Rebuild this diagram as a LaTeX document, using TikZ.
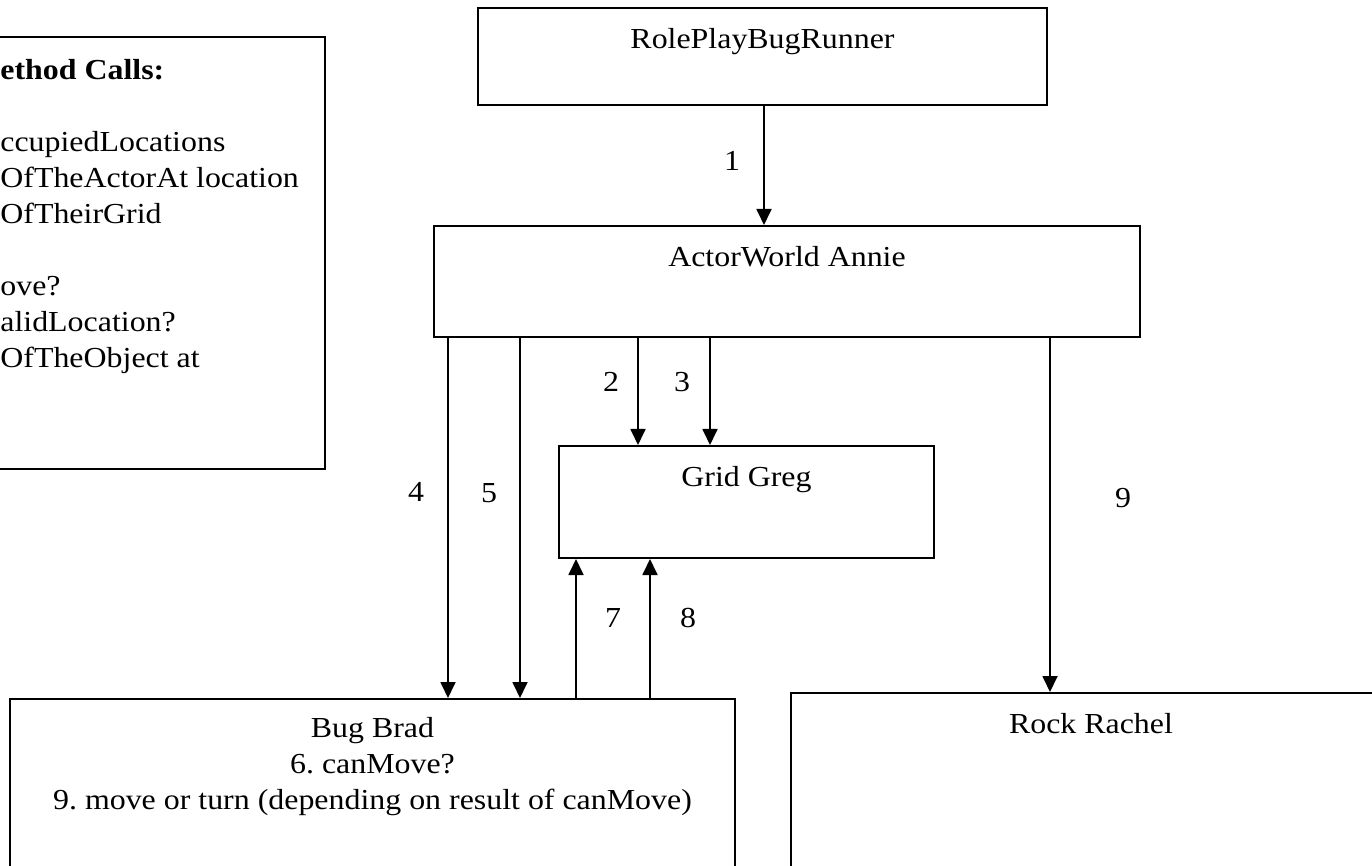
\documentclass[tikz,border=0pt]{standalone}
\usepackage{fontspec}
\setmainfont{Liberation Serif}[FakeStretch=1.1]
\usetikzlibrary{positioning,arrows.meta}
\frenchspacing
\tikzstyle{box} = [rectangle, draw, line width=1pt, inner sep=0pt]
\tikzstyle{boxtext} = [inner sep=0pt, text height=10pt, text depth=3pt]
\tikzstyle{num} = [inner sep=0pt]
\tikzstyle{line} = [draw, line width=0.9pt, -{Triangle[width=7.5pt,length=8pt]}]

\begin{document}
\begin{tikzpicture}[x=0.5pt, y=-0.5pt, font=\fontsize{14.5pt}{18pt}\selectfont]
	\useasboundingbox (0,0) rectangle (1372,866);
	\clip (0,0) rectangle (1372,866);

	\node[box, minimum width=173pt, minimum height=216pt, anchor=north east] (callsbox) at (326,36) {};
	\node[num, anchor=north west, align=left] (calls) at (0,59) {\textbf{ethod Calls:}\\[18pt] ccupiedLocations\\ OfTheActorAt location\\ OfTheirGrid\\[18pt] ove?\\ alidLocation?\\ OfTheObject at};

	\node[box, minimum width=284.5pt, minimum height=48.5pt, anchor=north west] (runner) at (477,7) {};
	\node[boxtext, below=10.5pt of runner.north] (runnertxt) {RolePlayBugRunner};
	\node[box, minimum width=353pt, minimum height=55.5pt, anchor=north west] (annie) at (433,225) {};
	\node[boxtext, below=10.5pt of annie.north] (annietxt) {ActorWorld Annie};
	\node[box, minimum width=187.5pt, minimum height=56pt, anchor=north west] (greg) at (558,445) {};
	\node[boxtext, below=10.5pt of greg.north] (gregtxt) {Grid Greg};
	\node[box, minimum width=362.5pt, minimum height=151pt, anchor=north west] (brad) at (9,698) {};
	\node[num, align=center, below=9.5pt of brad.north] (bradtxt) {Bug Brad\\ 6. canMove?\\ 9. move or turn (depending on result of canMove)};
	\node[box, minimum width=300pt, minimum height=154pt, anchor=north west] (rock) at (790,692) {};
	\node[boxtext, below=10.5pt of rock.north] (rocktxt) {Rock Rachel};

	\path[line] (runner.south -| 764,0) -- (annie.north -| 764,0);
	\path[line] (annie.south -| 448,0) -- (brad.north -| 448,0);
	\path[line] (annie.south -| 520,0) -- (brad.north -| 520,0);
	\path[line] (annie.south -| 638,0) -- (greg.north -| 638,0);
	\path[line] (annie.south -| 710,0) -- (greg.north -| 710,0);
	\path[line] (annie.south -| 1050,0) -- (rock.north -| 1050,0);
	\path[line] (brad.north -| 576,0) -- (greg.south -| 576,0);
	\path[line] (brad.north -| 650,0) -- (greg.south -| 650,0);

	\node[num] (l1) at (732,161) {1};
	\node[num] (l2) at (611,382) {2};
	\node[num] (l3) at (682,382) {3};
	\node[num] (l4) at (416,492) {4};
	\node[num] (l5) at (489,493) {5};
	\node[num] (l9) at (1123,498) {9};
	\node[num] (l7) at (613,618) {7};
	\node[num] (l8) at (688,618) {8};
\end{tikzpicture}
\end{document}
